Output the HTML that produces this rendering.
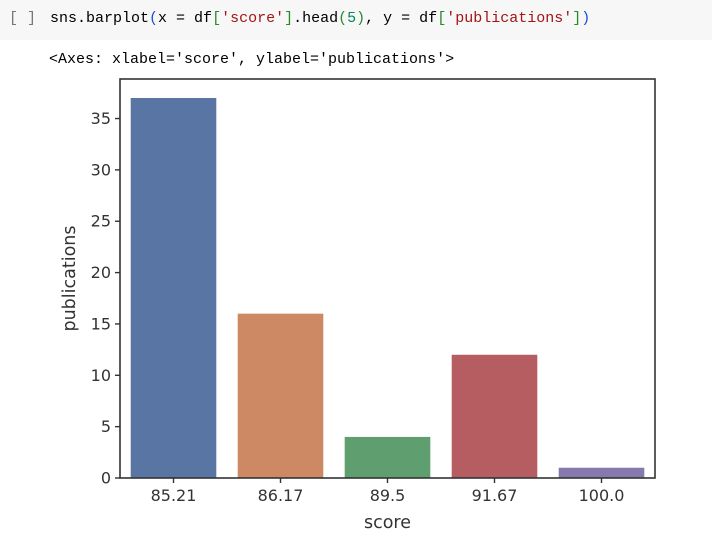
<!DOCTYPE html>
<html><head><meta charset="utf-8"><style>
body{margin:0;background:#fff;width:712px;height:552px;overflow:hidden;font-family:"Liberation Sans",sans-serif}
.cell{position:absolute;left:0;top:0;width:712px;height:40px;background:#f7f7f7}
.code{position:absolute;left:50px;top:10px;font:15px "Liberation Mono",monospace;color:#000;white-space:pre}
.br{position:absolute;left:9px;top:10px;font:15px "Liberation Mono",monospace;color:#777}
.out{position:absolute;left:49px;top:51px;font:15px "Liberation Mono",monospace;color:#000;white-space:pre}
</style></head><body>
<div class="cell"></div>
<div class="br">[ ]</div>
<div class="code">sns.barplot<span style="color:#1a4fd6">(</span>x = df<span style="color:#2a8a2a">[</span><span style="color:#a31515">'score'</span><span style="color:#2a8a2a">]</span>.head<span style="color:#2a8a2a">(</span><span style="color:#098658">5</span><span style="color:#2a8a2a">)</span>, y = df<span style="color:#2a8a2a">[</span><span style="color:#a31515">'publications'</span><span style="color:#2a8a2a">]</span><span style="color:#1a4fd6">)</span></div>
<div class="out">&lt;Axes: xlabel='score', ylabel='publications'&gt;</div>
<svg id="chart" width="712" height="552" style="position:absolute;left:0;top:0"></svg>
<script>
const categories=["85.21","86.17","89.5","91.67","100.0"];
const values=[37,16,4,12,1];
const yTicks=[0,5,10,15,20,25,30,35];
const colors=["#5975a4","#cc8963","#5f9e6e","#b55d60","#857aab"];
const L=120,R=655,T=79,B=478;
const svg=document.getElementById('chart');
const NS="http://www.w3.org/2000/svg";
const ymax=38.85;
const y=v=>B-v/ymax*(B-T);
const step=(R-L)/categories.length;
const xc=i=>L+step*(i+0.5);
function mk(t,a){const e=document.createElementNS(NS,t);for(const k in a)e.setAttribute(k,a[k]);svg.appendChild(e);return e;}
values.forEach((v,i)=>{
 const r=mk('rect',{x:xc(i)-step*0.4,y:y(v),width:step*0.8,height:B-y(v),fill:colors[i]});
 
 
});
const f=mk('rect',{x:L,y:T,width:R-L,height:B-T,fill:'none',stroke:'#333','stroke-width':1.6});


yTicks.forEach(t=>{
 mk('line',{x1:L-5,x2:L,y1:y(t),y2:y(t),stroke:'#333','stroke-width':1.4});
 const tx=mk('text',{x:L-9,y:y(t)+5.5,'text-anchor':'end','font-size':16,fill:'#333','font-family':'DejaVu Sans, sans-serif'});
 tx.textContent=t;
 
 
});
categories.forEach((c,i)=>{
 mk('line',{x1:xc(i),x2:xc(i),y1:B,y2:B+5,stroke:'#333','stroke-width':1.4});
 const tx=mk('text',{x:xc(i),y:B+23,'text-anchor':'middle','font-size':16,fill:'#333','font-family':'DejaVu Sans, sans-serif'});
 tx.textContent=c;
 
 
});
const xl=mk('text',{x:(L+R)/2,y:528,'text-anchor':'middle','font-size':17.5,fill:'#333','font-family':'DejaVu Sans, sans-serif'});
xl.textContent='score';


const yl=mk('text',{x:0,y:0,'text-anchor':'middle','font-size':17.5,fill:'#333','font-family':'DejaVu Sans, sans-serif',transform:`translate(75,${(T+B)/2}) rotate(-90)`});
yl.textContent='publications';


</script>
</body></html>
